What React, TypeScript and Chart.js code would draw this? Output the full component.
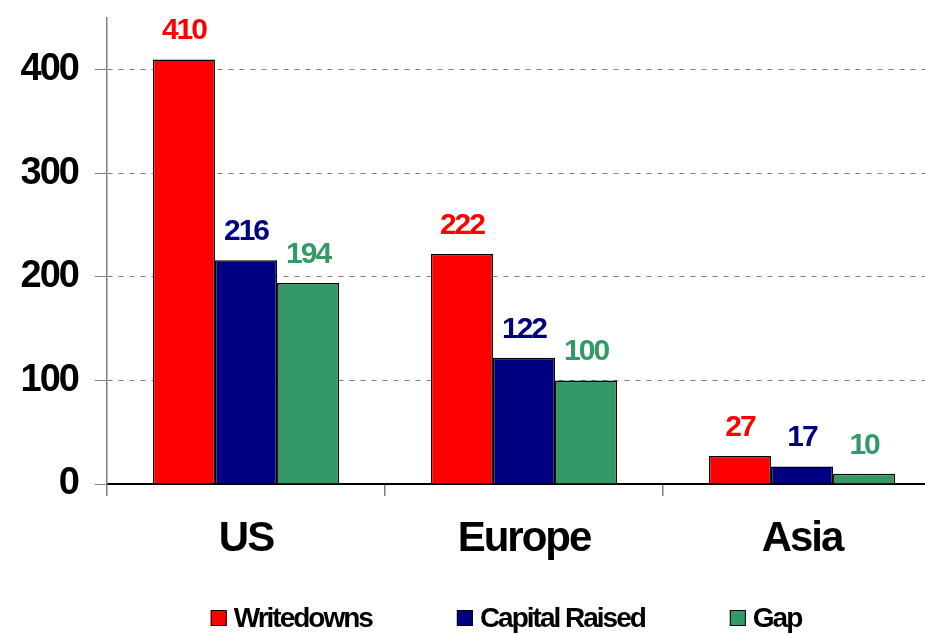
import React, { useEffect, useRef } from "react";
import { Chart, registerables } from "chart.js";

Chart.register(...registerables);

const categories = ["US", "Europe", "Asia"];
const writedowns = [410, 222, 27];
const capitalRaised = [216, 122, 17];
const gap = [194, 100, 10];
const seriesNames = ["Writedowns", "Capital Raised", "Gap"];
const seriesColors = ["#FF0000", "#000080", "#339966"];
const yTicks = [0, 100, 200, 300, 400];

const FONT = "'Liberation Sans', Arial, sans-serif";

const narrowText = {
  id: "narrowText",
  beforeDraw(chart: any) {
    chart.ctx.letterSpacing = "-2px";
  },
};

const valueLabels = {
  id: "valueLabels",
  afterDatasetsDraw(chart: any) {
    const ctx = chart.ctx;
    ctx.save();
    ctx.letterSpacing = "-2px";
    ctx.font = `bold 30px ${FONT}`;
    ctx.textAlign = "center";
    ctx.textBaseline = "alphabetic";
    chart.data.datasets.forEach((ds: any, i: number) => {
      const meta = chart.getDatasetMeta(i);
      meta.data.forEach((bar: any, j: number) => {
        ctx.fillStyle = ds.backgroundColor;
        ctx.fillText(String(ds.data[j]), bar.x, bar.y - 20);
      });
    });
    ctx.restore();
  },
};

const customLegend = {
  id: "customLegend",
  afterDraw(chart: any) {
    const ctx = chart.ctx;
    ctx.save();
    ctx.letterSpacing = "-2px";
    ctx.font = `bold 28px ${FONT}`;
    ctx.textBaseline = "middle";
    ctx.textAlign = "left";
    const box = 16;
    const inner = 7;
    const spacing = 85;
    const items = chart.data.datasets.map((ds: any) => ({
      label: ds.label,
      color: ds.backgroundColor,
      w: box + inner + ctx.measureText(ds.label).width,
    }));
    const total = items.reduce((s: number, it: any) => s + it.w, 0) + spacing * (items.length - 1);
    let x = 506 - total / 2;
    const cy = 618;
    items.forEach((it: any) => {
      ctx.fillStyle = it.color;
      ctx.fillRect(x, cy - box / 2, box, box);
      ctx.strokeStyle = "#000";
      ctx.lineWidth = 1;
      ctx.strokeRect(x + 0.5, cy - box / 2 + 0.5, box - 1, box - 1);
      ctx.fillStyle = "#000";
      ctx.fillText(it.label, x + box + inner, cy + 1);
      x += it.w + spacing;
    });
    ctx.restore();
  },
};

export default function App() {
  const ref = useRef<HTMLCanvasElement>(null);
  useEffect(() => {
    if (!ref.current) return;
    const dataSets = [writedowns, capitalRaised, gap];
    const chart = new Chart(ref.current, {
      type: "bar",
      data: {
        labels: categories,
        datasets: dataSets.map((d, i) => ({
          label: seriesNames[i],
          data: d,
          backgroundColor: seriesColors[i],
          borderColor: "#000000",
          borderWidth: 1.5,
          categoryPercentage: 0.67,
          barPercentage: 1.0,
        })),
      },
      options: {
        responsive: false,
        animation: false,
        layout: { padding: { top: 18, right: 0, bottom: 71, left: 0 } },
        plugins: {
          legend: { display: false },
          tooltip: { enabled: false },
          title: { display: false },
        },
        scales: {
          x: {
            offset: true,
            grid: {
              display: true,
              offset: true,
              drawOnChartArea: false,
              drawTicks: true,
              tickLength: 12,
              color: "#808080",
              lineWidth: 1.5,
            },
            border: { display: true, color: "#000000", width: 2 },
            ticks: {
              color: "#000000",
              font: { family: FONT, size: 42, weight: "bold" },
              padding: 18,
            },
            afterFit(scale: any) {
              scale.height = 80;
            },
          },
          y: {
            min: 0,
            max: 450,
            afterBuildTicks(scale: any) {
              scale.ticks = yTicks.map((v) => ({ value: v }));
            },
            grid: {
              color: (c: any) => (c.tick && c.tick.value === 0 ? "rgba(0,0,0,0)" : "#808080"),
              lineWidth: 1,
              drawTicks: true,
              tickLength: 12,
              tickBorderDash: [],
              tickColor: "#808080",
            },
            border: { display: true, color: "#808080", width: 1.5, dash: [5, 6] },
            ticks: {
              color: "#000000",
              font: { family: FONT, size: 38, weight: "bold" },
              padding: 17,
            },
            afterFit(scale: any) {
              scale.width = 107;
              scale.paddingTop = 0;
              scale.paddingBottom = 0;
            },
          },
        },
      },
      plugins: [narrowText, valueLabels, customLegend],
    });
    return () => chart.destroy();
  }, []);
  return (
    <div style={{ position: "absolute", left: 0, top: 0, width: 925, height: 635, overflow: "hidden", background: "#fff" }}>
      <canvas ref={ref} width={941} height={635} />
    </div>
  );
}
